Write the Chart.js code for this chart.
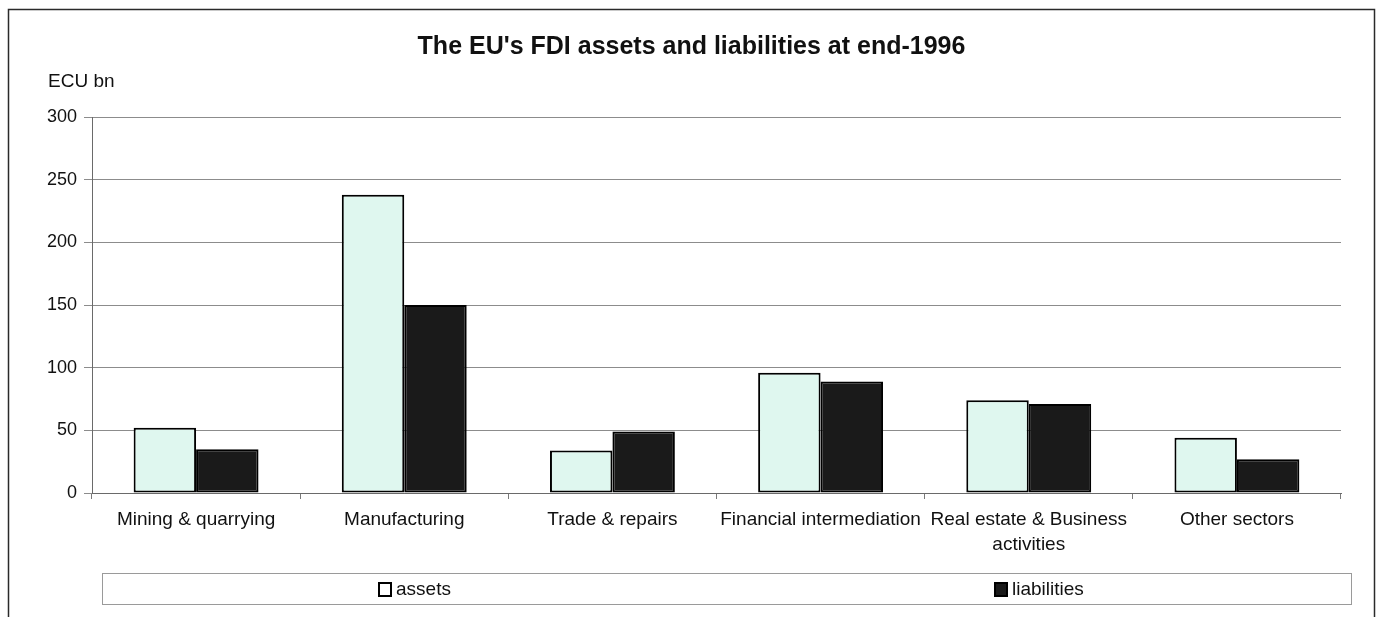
<!DOCTYPE html>
<html>
<head>
<meta charset="utf-8">
<title>The EU's FDI assets and liabilities at end-1996</title>
<script src="https://cdn.jsdelivr.net/npm/chart.js@4.4.1/dist/chart.umd.min.js"></script>
<style>
  html, body { margin: 0; padding: 0; background: #fff; }
  #wrap { width: 1383px; height: 617px; }
</style>
</head>
<body>
<div id="wrap"><canvas id="fdiChart" width="1383" height="617"></canvas></div>
<script>
// sectors on the x axis (the long one is wrapped in two lines)
const sectors = [
  'Mining & quarrying',
  'Manufacturing',
  'Trade & repairs',
  'Financial intermediation',
  ['Real estate & Business', 'activities'],
  'Other sectors'
];
// ECU bn
const assets = [52, 238, 34, 96, 74, 44];
const liabilities = [35, 150, 49, 89, 71, 27];
const yTicks = [0, 50, 100, 150, 200, 250, 300];

const FONT = '"Liberation Sans", Arial, Helvetica, sans-serif';

// outer frame, unit label and the boxed legend along the bottom
const framePlugin = {
  id: 'frame',
  beforeDraw(chart) {
    const c = chart.ctx;
    c.save();
    c.fillStyle = '#ffffff';
    c.fillRect(0, 0, chart.width, chart.height);
    c.strokeStyle = '#2a2a2a';
    c.lineWidth = 1.5;
    c.strokeRect(8.5, 9.5, 1366, 660);
    c.fillStyle = '#111';
    c.font = '19px ' + FONT;
    c.textBaseline = 'middle';
    c.textAlign = 'left';
    c.fillText('ECU bn', 48, 82);
    c.restore();
  },
  afterDraw(chart) {
    const c = chart.ctx;
    const box = { left: 102.5, top: 573.5, right: 1351.5, bottom: 604.5 };
    c.save();
    c.strokeStyle = '#9a9a9a';
    c.lineWidth = 1;
    c.strokeRect(box.left, box.top, box.right - box.left, box.bottom - box.top);
    const w = box.right - box.left;
    const cy = (box.top + box.bottom) / 2;
    c.font = '19px ' + FONT;
    c.textBaseline = 'middle';
    c.textAlign = 'left';
    chart.data.datasets.forEach((ds, i) => {
      // each item is centred in its half of the box
      const itemW = 13 + 4 + c.measureText(ds.label).width;
      const x = Math.round(box.left + w * (i * 2 + 1) / 4 - itemW / 2);
      c.fillStyle = i === 0 ? '#ffffff' : ds.backgroundColor;
      c.fillRect(x, cy - 6, 12, 13);
      c.strokeStyle = '#000';
      c.lineWidth = 2;
      c.strokeRect(x, cy - 6, 12, 13);
      c.fillStyle = '#111';
      c.fillText(ds.label, x + 17, cy + 1);
    });
    c.restore();
  }
};

new Chart(document.getElementById('fdiChart'), {
  type: 'bar',
  data: {
    labels: sectors,
    datasets: [
      {
        label: 'assets',
        data: assets,
        backgroundColor: '#dff7ef',
        borderColor: '#000',
        borderWidth: 2,
        borderSkipped: false
      },
      {
        label: 'liabilities',
        data: liabilities,
        backgroundColor: '#1a1a1a',
        borderColor: '#000',
        borderWidth: 2,
        borderSkipped: false
      }
    ]
  },
  options: {
    responsive: false,
    animation: false,
    events: [],
    // symmetric side padding keeps the title centred on the page
    layout: { padding: { left: 42, right: 42, top: 0, bottom: 0 } },
    datasets: { bar: { categoryPercentage: 0.6, barPercentage: 1.0 } },
    plugins: {
      legend: { display: false },
      tooltip: { enabled: false },
      title: {
        display: true,
        text: "The EU's FDI assets and liabilities at end-1996",
        color: '#111',
        font: { family: FONT, size: 25, weight: 'bold' },
        padding: { top: 32, bottom: 55 }
      }
    },
    scales: {
      y: {
        min: 0,
        max: 300,
        afterBuildTicks: s => { s.ticks = yTicks.map(v => ({ value: v })); },
        afterFit: s => { s.width = 50; },
        ticks: {
          color: '#111',
          padding: 7,
          font: { family: FONT, size: 18 }
        },
        grid: { color: '#8c8c8c', lineWidth: 1, tickLength: 8 },
        border: { display: true, color: '#6a6a6a', width: 1 }
      },
      x: {
        afterFit: s => { s.height = 124; },
        ticks: {
          color: '#111',
          padding: 8,
          maxRotation: 0,
          autoSkip: false,
          font: { family: FONT, size: 19, lineHeight: 1.32 }
        },
        grid: { display: true, offset: true, drawOnChartArea: false, color: '#7a7a7a', tickLength: 6 },
        border: { display: true, color: '#6a6a6a', width: 1 }
      }
    }
  },
  plugins: [framePlugin]
});
</script>
</body>
</html>
